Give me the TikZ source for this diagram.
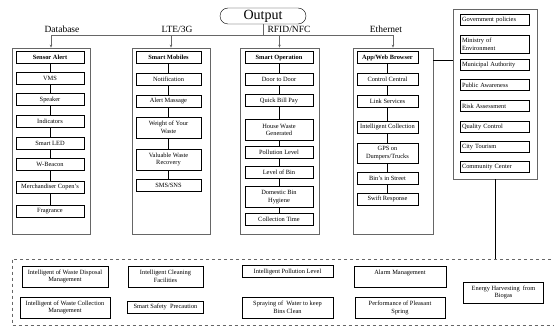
\documentclass[tikz,border=0pt]{standalone}
\usepackage{fontspec}
\setmainfont{Liberation Serif}
\usetikzlibrary{arrows.meta, calc}

\begin{document}
\begin{tikzpicture}[x=1pt, y=-1pt,
  col/.style={draw=black!60, line width=0.7pt, minimum width=#1, minimum height=186pt, inner sep=0pt},
  item/.style={draw, line width=0.8pt, inner sep=1pt, align=center, minimum width=#1,
    minimum height=12pt, font=\fontsize{6.4}{7.6}\selectfont},
  side/.style={draw, line width=0.8pt, inner sep=2pt, align=left, text width=65pt,
    minimum height=11pt, font=\fontsize{6.4}{7.6}\selectfont},
  lbl/.style={inner sep=0pt, font=\fontsize{9.5}{11}\selectfont},
  bus/.style={draw=black!60, line width=0.5pt},
  link/.style={line width=0.8pt}]
\useasboundingbox (0,0) rectangle (554,329);
% output and bus
\node[draw, rounded corners=8pt, minimum width=86pt, minimum height=16pt, inner sep=0pt,
  font=\fontsize{14}{16}\selectfont] (out) at (263,16) {Output};
\coordinate (bus) at (0,35);
\coordinate (lnk) at (0,60);
\coordinate (dtop) at (0,259.5);
% column frames
\node[col=78pt] (c1) at (51,141) {};
\node[col=78pt] (c2) at (171,141) {};
\node[col=79pt] (c3) at (279.5,141) {};
\node[col=80pt] (c4) at (393,141) {};
\node[col=84pt, minimum height=170pt] (c5) at (495,94) {};
% bus lines
\draw[bus] (c1.north |- bus) -- (c4.north |- bus);
\draw[bus] (out.south) -- (out.south |- bus);
\draw[bus, -{Stealth[length=3pt, width=2.5pt]}] (c1.north |- bus) -- (c1.north);
\draw[bus, -{Stealth[length=3pt, width=2.5pt]}] (c2.north |- bus) -- (c2.north);
\draw[bus, -{Stealth[length=3pt, width=2.5pt]}] (c3.north |- bus) -- (c3.north);
\draw[bus, -{Stealth[length=3pt, width=2.5pt]}] (c4.north |- bus) -- (c4.north);
\node[lbl] at (62,29) {Database};
\node[lbl] at (177,29) {LTE/3G};
\node[lbl] at (289,29) {RFID/NFC};
\node[lbl] at (386,29) {Ethernet};
% column 1
\node[item=68pt] (sa) at (50,57.5) {\textbf{Sensor Alert}};
\node[item=68pt] (vms) at (50,78.5) {VMS};
\node[item=68pt] (spk) at (50,99.5) {Speaker};
\node[item=68pt] (ind) at (50,121.5) {Indicators};
\node[item=68pt] (led) at (50,143) {Smart LED};
\node[item=68pt] (wb) at (50,164.5) {W-Beacon};
\node[item=68pt] (mc) at (50,187) {Merchandiser Copen's};
\node[item=68pt] (fr) at (50,211) {Fragrance};
\draw[link] (sa) -- (vms) (vms) -- (spk) (spk) -- (ind) (ind) -- (led)
  (led) -- (wb) (wb) -- (mc) (mc) -- (fr);
% column 2
\node[item=65pt] (sm) at (168.5,57.5) {\textbf{Smart Mobiles}};
\node[item=65pt] (nt) at (168.5,79) {Notification};
\node[item=65pt] (am) at (168.5,101) {Alert Massage};
\node[item=65pt, minimum height=21pt] (wy) at (168.5,127.5) {Weight of Your\\Waste};
\node[item=65pt, minimum height=21pt] (vw) at (168.5,159.5) {Valuable Waste\\Recovery};
\node[item=65pt] (sms) at (168.5,185) {SMS/SNS};
\draw[link] (sm) -- (nt) (nt) -- (am) (am) -- (wy) (wy) -- (vw) (vw) -- (sms);
% column 3
\node[item=68pt] (so) at (279,57.5) {\textbf{Smart Operation}};
\node[item=68pt] (dd) at (279,79) {Door to Door};
\node[item=68pt] (qb) at (279,100.5) {Quick Bill Pay};
\node[item=68pt, minimum height=21pt] (hw) at (279,130) {House Waste\\Generated};
\node[item=68pt] (pl) at (279,152) {Pollution Level};
\node[item=68pt] (lb) at (279,172) {Level of Bin};
\node[item=68pt, minimum height=21pt] (dh) at (279,197) {Domestic Bin\\Hygiene};
\node[item=68pt] (ct) at (279,219) {Collection Time};
\draw[link] (so) -- (dd) (dd) -- (qb) (qb) -- (hw) (hw) -- (pl) (pl) -- (lb)
  (lb) -- (dh) (dh) -- (ct);
% column 4
\node[item=61pt] (ab) at (387.5,57.5) {\textbf{App/Web Browser}};
\node[item=61pt] (cc) at (387.5,79) {Control Central};
\node[item=61pt] (ls) at (387.5,101) {Link Services};
\node[item=61pt] (ic) at (387.5,127) {Intelligent Collection};
\node[item=61pt, minimum height=20pt] (gps) at (387.5,153) {GPS on\\Dumpers/Trucks};
\node[item=61pt] (bs) at (387.5,178) {Bin's in Street};
\node[item=61pt] (sr) at (387.5,199) {Swift Response};
\draw[link] (ab) -- (cc) (cc) -- (ls) (ls) -- (ic) (ic) -- (gps) (gps) -- (bs) (bs) -- (sr);
% column 5
\node[side] (gp) at (494.5,20) {Government policies};
\node[side, minimum height=18pt] (me) at (494.5,44) {Ministry of\\Environment};
\node[side] (ma) at (494.5,64.5) {Municipal Authority};
\node[side] (pa) at (494.5,85) {Public Awareness};
\node[side] (ra) at (494.5,106) {Risk Assessment};
\node[side] (qc) at (494.5,127) {Quality Control};
\node[side] (cty) at (494.5,147) {City Tourism};
\node[side] (cmc) at (494.5,167) {Community Center};
\draw[link] (c4.east |- lnk) -- (c5.west |- lnk);
\draw[link] (c5.south) -- (c5.south |- dtop);
% bottom services
\draw[draw=black!60, dashed, line width=0.6pt] (12,259.5) rectangle (570,325);
\node[item=86pt, minimum height=21pt] (dsp) at (65,276.5) {Intelligent of Waste Disposal\\Management};
\node[item=90pt, minimum height=21pt] (col) at (65,307.5) {Intelligent of Waste Collection\\Management};
\node[item=75pt, minimum height=21pt] (cln) at (165.5,276.5) {Intelligent Cleaning\\Facilities};
\node[item=76pt] (sfp) at (165.5,307) {Smart Safety~~Precaution};
\node[item=91pt] (ipl) at (287.5,271.5) {Intelligent Pollution Level};
\node[item=91pt, minimum height=21pt] (spw) at (287.5,307.5) {Spraying of~~Water to keep\\Bins Clean};
\node[item=92pt, minimum height=21pt] (alm) at (400,276.5) {Alarm Management\\~};
\node[item=90pt, minimum height=21pt] (pps) at (400,308) {Performance of Pleasant\\Spring};
\node[item=80pt, minimum height=21pt] (ehb) at (503.5,292.5) {Energy Harvesting~~from\\Biogas};
\end{tikzpicture}
\end{document}
